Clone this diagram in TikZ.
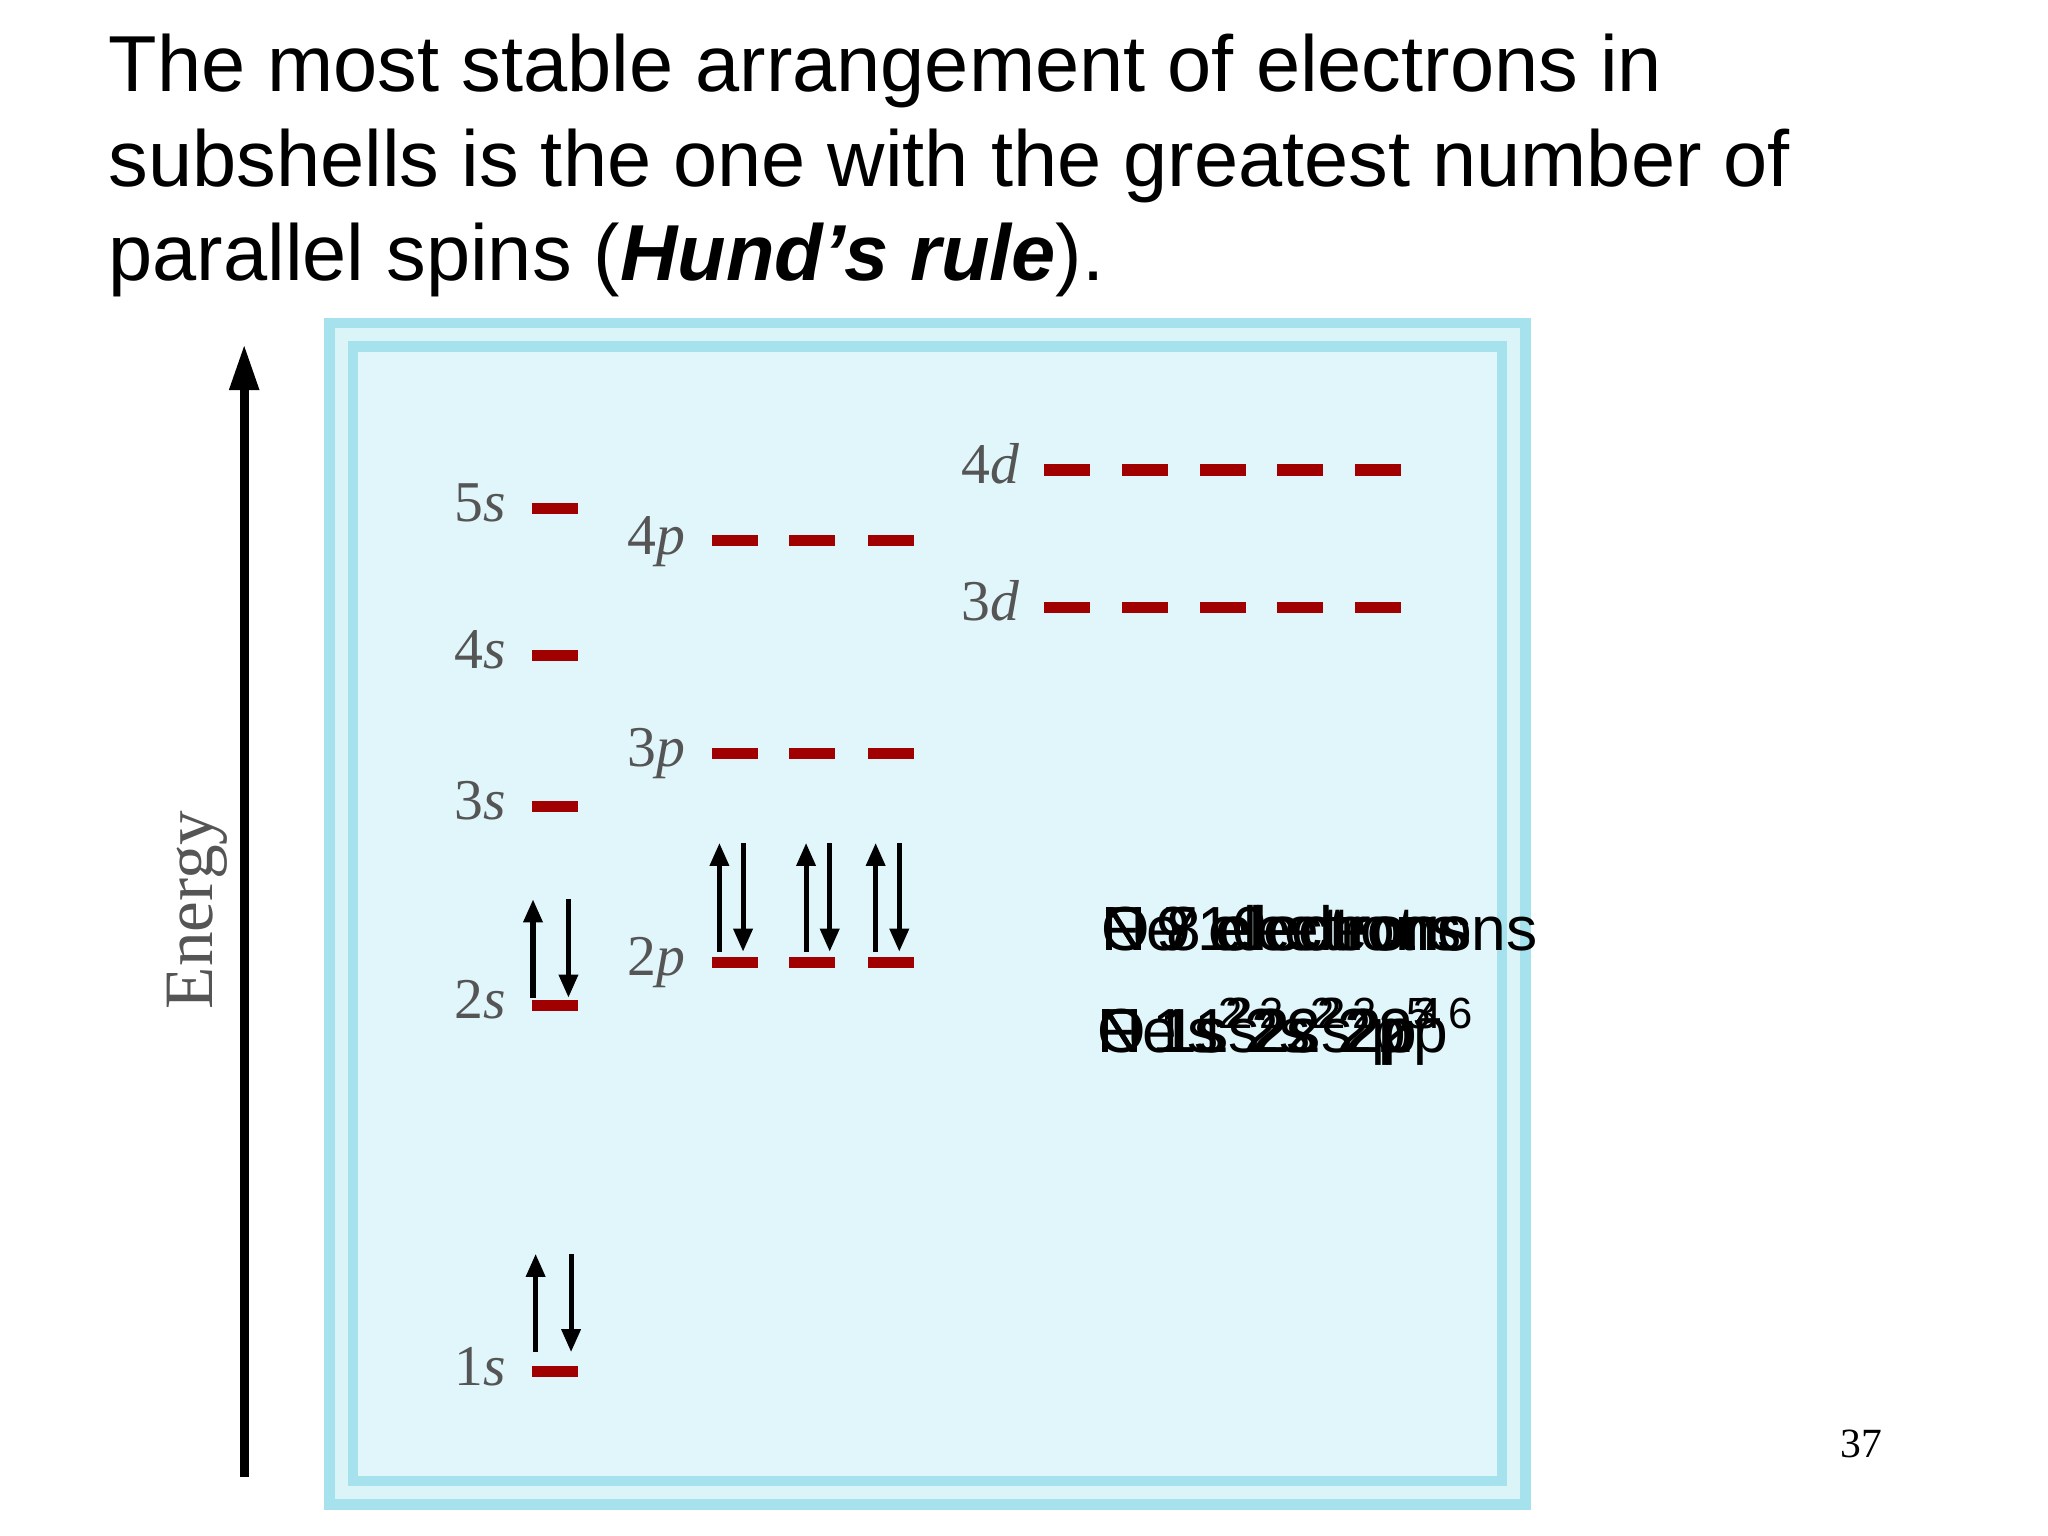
\documentclass[tikz,border=0pt]{standalone}
\usepackage{fontspec}
\setmainfont{Liberation Serif}
\setsansfont{Liberation Sans}
\usetikzlibrary{arrows.meta}
\definecolor{lvl}{HTML}{A00000}
\definecolor{boxin}{HTML}{E0F6FA}
\definecolor{boxb}{HTML}{A6E2EE}
\definecolor{lab}{HTML}{555555}
\tikzset{
 lev/.style={draw=lvl,line width=2.4pt},
 orb/.style={font=\fontsize{12.5}{14}\selectfont,text=lab,anchor=base east,inner sep=0pt},
 el/.style={-{Triangle[length=5pt,width=4pt]},line width=1.1pt},
 cnt/.style={font=\sffamily\fontsize{13.5}{16}\selectfont,anchor=base west,inner sep=0pt}
}
\begin{document}
\begin{tikzpicture}[x=0.01cm,y=-0.01cm]
\useasboundingbox (0,0) rectangle (1560,1170);
% title
\node[anchor=base west,inner sep=0pt,font=\sffamily\fontsize{17.2}{20.5}\selectfont] (t1) at (82,70) {The most stable arrangement of electrons in};
\node[anchor=base west,inner sep=0pt,font=\sffamily\fontsize{17.2}{20.5}\selectfont] (t2) at (82,142) {subshells is the one with the greatest number of};
\node[anchor=base west,inner sep=0pt,font=\sffamily\fontsize{17.2}{20.5}\selectfont] (t3) at (82,214) {parallel spins (\textbf{\textit{Hund’s rule}}).};
% box
\fill[boxb] (247,242) rectangle (1166,1150);
\fill[white!60!boxb] (255,250) rectangle (1158,1142);
\fill[boxb] (265,260) rectangle (1148,1132);
\fill[boxin] (273,268) rectangle (1140,1124);
% energy axis
\coordinate (eb) at (186,1125);
\coordinate (et) at (186,262);
\draw[-{Triangle[length=10pt,width=6pt]},line width=2pt] (eb) -- (et);
\node[rotate=90,text=lab,font=\fontsize{15}{18}\selectfont] (en) at (150,693) {Energy};
% s levels
\foreach \n/\y in {5/387,4/499,3/614,2/766,1/1045}{
  \draw[lev] (405,\y) -- (440,\y);
  \node[orb] (s\n) at (386,\y+10) {\n\textit{s}};
}
% p levels
\foreach \n/\y in {4/412,3/574,2/733}{
  \foreach \x in {542,601,661} \draw[lev] (\x,\y) -- (\x+35,\y);
  \node[orb] (p\n) at (523,\y+10) {\n\textit{p}};
}
% d levels
\foreach \n/\y in {4/358,3/463}{
  \foreach \x in {795,855,914,973,1032} \draw[lev] (\x,\y) -- (\x+35,\y);
  \node[orb] (d\n) at (777,\y+10) {\n\textit{d}};
}
% electrons
\draw[el] (408,1030) -- (408,955);
\draw[el] (435,955) -- (435,1030);
\draw[el] (406,760) -- (406,685);
\draw[el] (433,685) -- (433,760);
\foreach \x in {548,614,667}{
  \draw[el] (\x,725) -- (\x,642);
  \draw[el] (\x+18,642) -- (\x+18,725);
}
% overlapping texts
\node[cnt] (c1) at (838,724) {N 7 electrons};
\node[cnt] (c2) at (838,724) {O 8 electrons};
\node[cnt] (c3) at (838,724) {F 9 electrons};
\node[cnt] (c4) at (838,724) {Ne 10 electrons};
\node[cnt] (e1) at (835,802) {N 1s$^{\mathsf 2}$2s$^{\mathsf 2}$2p$^{\mathsf 3}$};
\node[cnt] (e2) at (835,802) {O 1s$^{\mathsf 2}$2s$^{\mathsf 2}$2p$^{\mathsf 4}$};
\node[cnt] (e3) at (835,802) {F 1s$^{\mathsf 2}$2s$^{\mathsf 2}$2p$^{\mathsf 5}$};
\node[cnt] (e4) at (835,802) {Ne 1s$^{\mathsf 2}$2s$^{\mathsf 2}$2p$^{\mathsf 6}$};
% page number
\node[font=\fontsize{9}{11}\selectfont] (pg) at (1418,1100) {37};
\end{tikzpicture}
\end{document}
